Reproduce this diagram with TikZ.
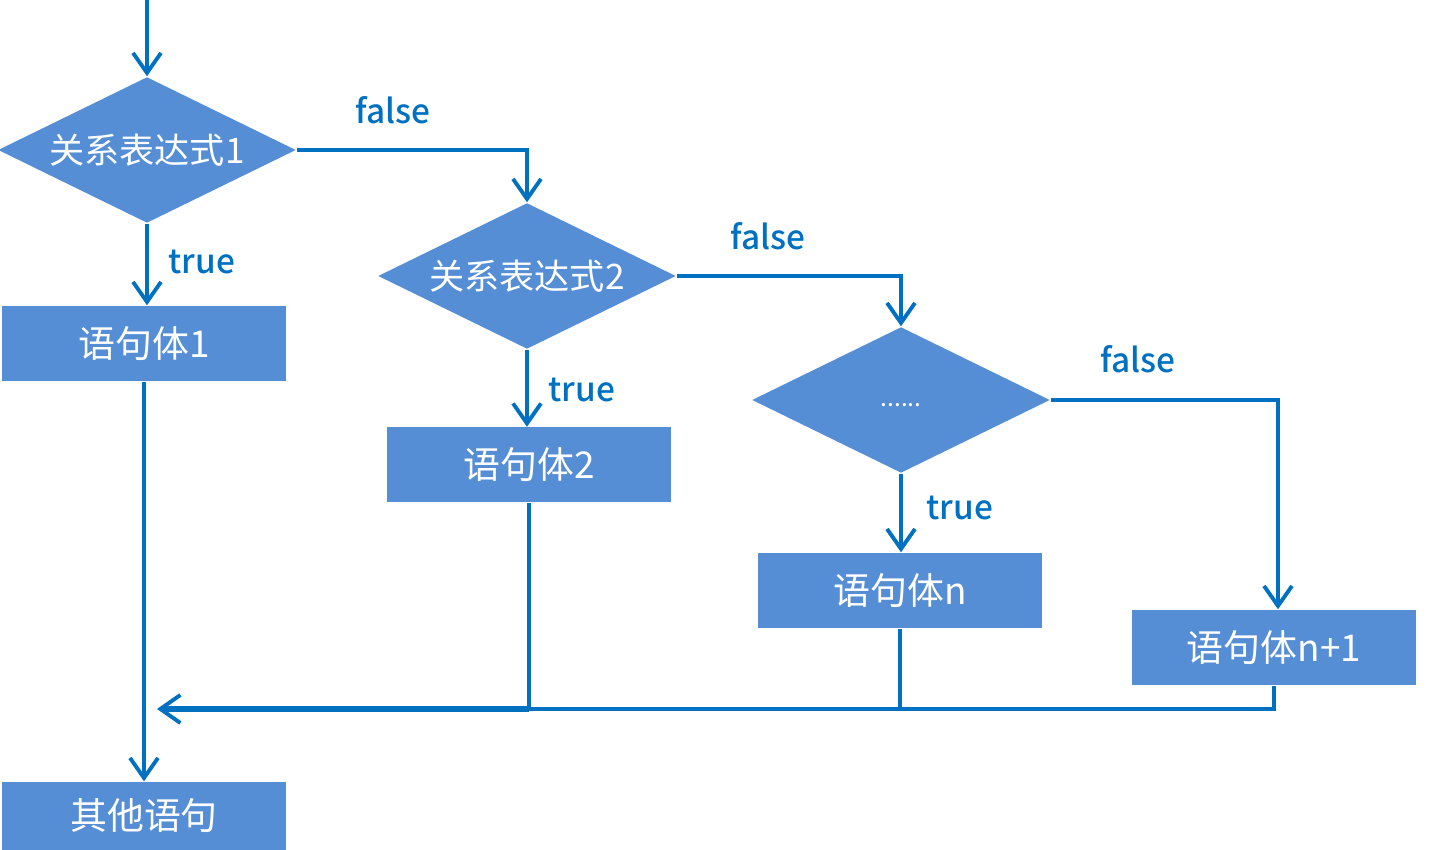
\documentclass[tikz,border=0pt]{standalone}
\usepackage{fontspec}
\setmainfont{Noto Sans CJK SC}
\newfontfamily\tagfont{Noto Sans CJK SC Medium}
\usepackage{xcolor}
\usepackage{tikz}
\usetikzlibrary{shapes.geometric,arrows.meta}

\definecolor{boxblue}{HTML}{558ED5}
\definecolor{lineblue}{HTML}{0070C0}

\begin{document}
\begin{tikzpicture}[
    decision/.style={diamond, fill=boxblue, text=white, minimum width=2.98cm, minimum height=1.46cm, inner sep=0pt, aspect=2, font=\fontsize{10pt}{12pt}\selectfont},
    stmt/.style={rectangle, fill=boxblue, text=white, minimum width=2.84cm, minimum height=0.75cm, inner sep=0pt, font=\fontsize{10.5pt}{12pt}\selectfont},
    tag/.style={text=lineblue, font=\fontsize{9.5pt}{11pt}\tagfont, inner sep=0pt},
    arrow/.style={-{Straight Barb[length=2mm,width=2.8mm,line width=1.1pt]}, draw=lineblue, line width=1.1pt},
    flow/.style={draw=lineblue, line width=1pt}
]
\useasboundingbox (0,0) rectangle (14.35,-8.5);

% entry point
\coordinate (start) at (1.47,0);

% decisions
\node[decision] (cond1) at (1.47,-1.50) {关系表达式1};
\node[decision] (cond2) at (5.27,-2.76) {关系表达式2};
\node[decision] (cond3) at (9.01,-4.00) {\raisebox{-0.7mm}[0pt][0pt]{\fontsize{7pt}{8pt}\selectfont ......}};

% statement blocks
\node[stmt] (body1) at (1.44,-3.435) {语句体1};
\node[stmt] (body2) at (5.29,-4.65) {语句体2};
\node[stmt] (bodyn) at (9.00,-5.905) {语句体n};
\node[stmt] (bodyn1) at (12.74,-6.475) {语句体n+1};
\node[stmt, minimum height=0.68cm] (other) at (1.44,-8.16) {其他语句};

% branch labels
\node[tag] (false1) at (3.93,-1.10) {false};
\node[tag] (false2) at (7.68,-2.36) {false};
\node[tag] (false3) at (11.38,-3.59) {false};
\node[tag] (true1) at (2.02,-2.62) {true};
\node[tag] (true2) at (5.82,-3.90) {true};
\node[tag] (true3) at (9.60,-5.08) {true};

% merge point
\coordinate (merge) at (1.57,-7.09);

% Arrows
\draw[arrow] (start) -- (cond1.north);
\draw[arrow] (cond1.south) -- (cond1.south |- body1.north);
\draw[arrow] (cond1.east) -| (cond2.north);
\draw[arrow] (cond2.south) -- (cond2.south |- body2.north);
\draw[arrow] (cond2.east) -| (cond3.north);
\draw[arrow] (cond3.south) -- (cond3.south |- bodyn.north);
\draw[arrow] (cond3.east) -| ([xshift=0.04cm]bodyn1.north);
\draw[arrow] (body1.south) -- (other.north);

\draw[flow] (bodyn1.south) |- (body2.south |- merge);
\draw[flow] (bodyn.south) -- (bodyn.south |- merge);
\draw[flow] (body2.south) -- (body2.south |- merge);
\draw[arrow, line width=1.6pt] (body2.south |- merge) -- (merge);

\end{tikzpicture}
\end{document}
